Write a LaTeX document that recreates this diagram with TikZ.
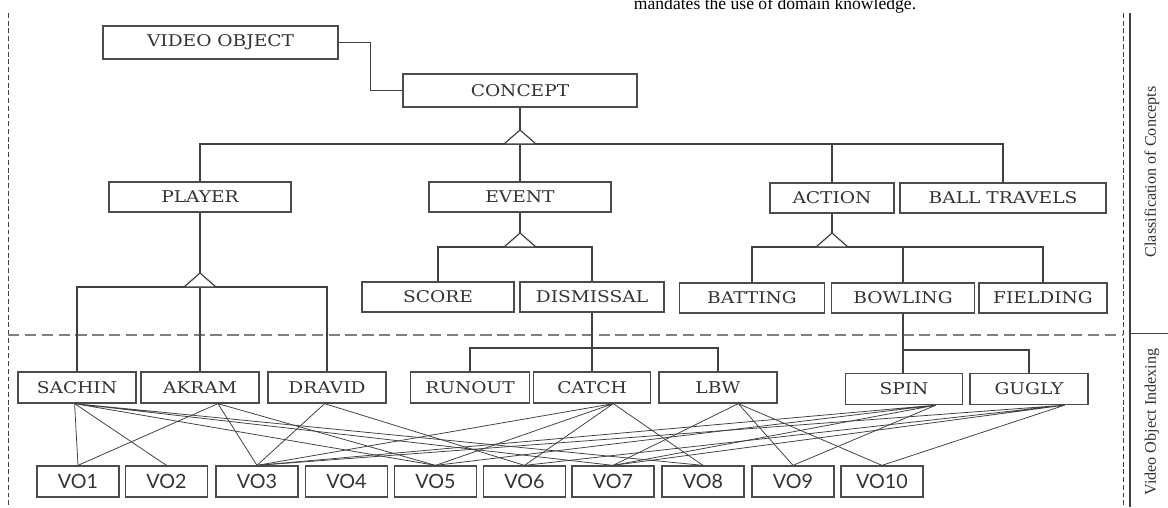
\documentclass[tikz,border=0pt]{standalone}
\usepackage{fontspec}
\setmainfont{Liberation Serif}
\newfontfamily\boxfont[FakeStretch=1.15]{DejaVu Serif}
\newfontfamily\vofont{Lato}
\usetikzlibrary{calc}
\tikzset{box/.style = {draw = black!70, line width = 0.9pt, rectangle, inner sep = 0,
                       minimum height = 0.75cm, text = black!80,
                       font = \boxfont\fontsize{11.5}{13}\selectfont}}
\tikzset{vobox/.style = {box, minimum height = 0.775cm, minimum width = 2.05cm,
                         font = \vofont\fontsize{14}{16}\selectfont}}
\tikzset{tree/.style = {draw = black!75, line width = 0.85pt}}
\tikzset{link/.style = {draw = black!75, line width = 0.55pt}}
\tikzset{isa/.pic = {\draw [draw = black!75, fill = white, line width = 0.85pt]
                       (-16, 0) -- (0, -14) -- (16, 0) -- cycle;}}

\begin{document}
\begin{tikzpicture}[x = 0.025cm, y = -0.025cm]
    \useasboundingbox (0, 0) rectangle (1168, 507);

    \node [anchor = base west, font = \fontsize{12.5}{14}\selectfont] (quote) at (629, 9) {mandates the use of domain knowledge.};

    \draw [black!75, line width = 0.6pt, dash pattern = on 3.5pt off 2pt] (8, 13) -- (8, 507);
    \draw [black!75, line width = 0.6pt, dash pattern = on 3.5pt off 2pt] (1123, 13) -- (1123, 507);
    \draw [black!75, line width = 0.8pt] (1130, 13) -- (1130, 507);
    \draw [black!75, line width = 0.6pt] (1130, 333) -- (1168, 333);
    \draw [black!50, line width = 0.8pt, dash pattern = on 8pt off 4pt] (8, 335) -- (1123, 335);

    \node [rotate = 90, font = \fontsize{11.5}{13}\selectfont, text = black!80] (classlbl) at (1152, 172) {Classification of Concepts};
    \node [rotate = 90, font = \fontsize{11.5}{13}\selectfont, text = black!80] (indexlbl) at (1152, 422) {Video Object Indexing};

    \node [box, minimum height = 0.825cm, minimum width = 5.875cm] (vobj) at (220.5, 42.5) {VIDEO OBJECT};
    \node [box, minimum height = 0.825cm, minimum width = 5.85cm] (concept) at (520, 90.5) {CONCEPT};

    \node [box, minimum width = 4.55cm] (player) at (200, 197) {PLAYER};
    \node [box, minimum width = 4.55cm] (event) at (520, 197) {EVENT};
    \node [box, minimum width = 3.1cm] (action) at (832, 198) {ACTION};
    \node [box, minimum width = 5.15cm] (balltr) at (1003, 198) {BALL TRAVELS};

    \node [box, minimum width = 3.8cm] (score) at (438, 297) {SCORE};
    \node [box, minimum width = 3.6cm] (dismissal) at (592, 297) {DISMISSAL};
    \node [box, minimum width = 3.625cm] (batting) at (752, 298) {BATTING};
    \node [box, minimum width = 3.575cm] (bowling) at (903, 298) {BOWLING};
    \node [box, minimum width = 3.2cm] (fielding) at (1043, 298) {FIELDING};

    \node [box, minimum height = 0.775cm, minimum width = 2.95cm] (sachin) at (77, 387.5) {SACHIN};
    \node [box, minimum height = 0.775cm, minimum width = 2.95cm] (akram) at (200, 387.5) {AKRAM};
    \node [box, minimum height = 0.775cm, minimum width = 2.95cm] (dravid) at (327, 387.5) {DRAVID};
    \node [box, minimum height = 0.775cm, minimum width = 2.975cm] (runout) at (470, 387.5) {RUNOUT};
    \node [box, minimum height = 0.775cm, minimum width = 2.925cm] (catch) at (592, 387.5) {CATCH};
    \node [box, minimum height = 0.775cm, minimum width = 2.95cm] (lbw) at (718, 387.5) {LBW};
    \node [box, minimum height = 0.775cm, minimum width = 2.925cm] (spin) at (904, 389) {SPIN};
    \node [box, minimum height = 0.775cm, minimum width = 2.95cm] (gugly) at (1029, 389) {GUGLY};

    \node [vobox] (vo1) at (78, 481.5) {VO1};
    \node [vobox] (vo2) at (166.5, 481.5) {VO2};
    \node [vobox] (vo3) at (257, 481.5) {VO3};
    \node [vobox] (vo4) at (346.5, 481.5) {VO4};
    \node [vobox] (vo5) at (435.5, 481.5) {VO5};
    \node [vobox] (vo6) at (524.5, 481.5) {VO6};
    \node [vobox] (vo7) at (613, 481.5) {VO7};
    \node [vobox] (vo8) at (703, 481.5) {VO8};
    \node [vobox] (vo9) at (793, 481.5) {VO9};
    \node [vobox] (vo10) at (882, 481.5) {VO10};

    \coordinate (cbar) at (520, 144);
    \coordinate (pbar) at (200, 287);
    \coordinate (ebar) at (520, 247);
    \coordinate (abar) at (832, 247);
    \coordinate (dbar) at (592, 348);
    \coordinate (bbar) at (903, 350);

    \draw [tree] (vobj.east) -- ++(32, 0) |- (concept.west);
    \draw [tree] (concept.south) -- (cbar);
    \draw [tree] (player.north) |- (cbar) -| (balltr.north);
    \draw [tree] (cbar) -- (event.north);
    \draw [tree] (action.north) -- (action.north |- cbar);
    \pic at (cbar) {isa};

    \draw [tree] (player.south) -- (pbar);
    \draw [tree] (sachin.north) |- (pbar) -| (dravid.north);
    \draw [tree] (pbar) -- (akram.north);
    \pic at (pbar) {isa};

    \draw [tree] (event.south) -- (ebar);
    \draw [tree] (score.north) |- (ebar) -| (dismissal.north);
    \pic at (ebar) {isa};

    \draw [tree] (action.south) -- (abar);
    \draw [tree] (batting.north) |- (abar) -| (fielding.north);
    \draw [tree] (bowling.north) -- (bowling.north |- abar);
    \pic at (abar) {isa};

    \draw [tree] (dismissal.south) -- (catch.north);
    \draw [tree] (runout.north) |- (dbar) -| (lbw.north);
    \draw [tree] (bowling.south) -- (bowling.south |- spin.north);
    \draw [tree] (bbar) -| (gugly.north);

    \coordinate (sachin-f) at ($(sachin.south west)!.48!(sachin.south east)$);
    \coordinate (akram-f) at ($(akram.south west)!.65!(akram.south east)$);
    \coordinate (dravid-f) at ($(dravid.south west)!.48!(dravid.south east)$);
    \coordinate (catch-f) at ($(catch.south west)!.68!(catch.south east)$);
    \coordinate (lbw-f) at ($(lbw.south west)!.67!(lbw.south east)$);
    \coordinate (spin-f) at ($(spin.south west)!.77!(spin.south east)$);
    \coordinate (gugly-f) at ($(gugly.south west)!.8!(gugly.south east)$);

    \draw [link] (sachin-f) -- (vo1.north) (sachin-f) -- (vo2.north) (sachin-f) -- (vo5.north)
                 (sachin-f) -- (vo7.north) (sachin-f) -- (vo8.north);
    \draw [link] (akram-f) -- (vo1.north) (akram-f) -- (vo3.north) (akram-f) -- (vo5.north);
    \draw [link] (dravid-f) -- (vo3.north) (dravid-f) -- (vo6.north);
    \draw [link] (catch-f) -- (vo3.north) (catch-f) -- (vo5.north) (catch-f) -- (vo6.north)
                 (catch-f) -- (vo8.north);
    \draw [link] (lbw-f) -- (vo7.north) (lbw-f) -- (vo9.north) (lbw-f) -- (vo10.north);
    \draw [link] (spin-f) -- (vo3.north) (spin-f) -- (vo5.north) (spin-f) -- (vo7.north)
                 (spin-f) -- (vo9.north);
    \draw [link] (gugly-f) -- (vo3.north) (gugly-f) -- (vo6.north) (gugly-f) -- (vo7.north)
                 (gugly-f) -- (vo10.north);
  \end{tikzpicture}
\end{document}
